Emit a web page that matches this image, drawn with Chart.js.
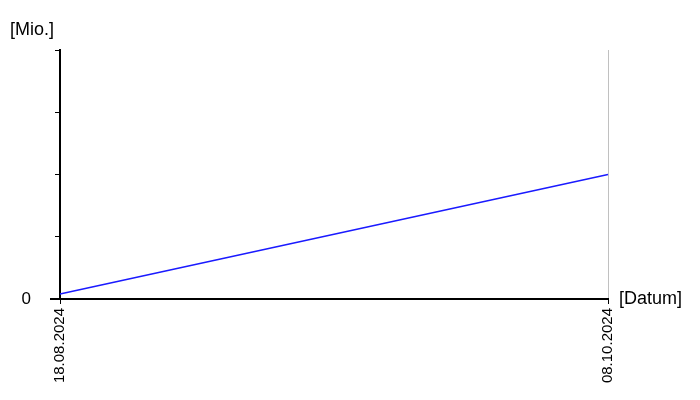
<!DOCTYPE html>
<html>
<head>
<meta charset="utf-8">
<script src="https://cdn.jsdelivr.net/npm/chart.js@4.4.1/dist/chart.umd.min.js"></script>
<style>
  body { margin: 0; background: #fff; }
  #wrap { width: 700px; height: 400px; }
</style>
</head>
<body>
<div id="wrap"><canvas id="chart" width="700" height="400"></canvas></div>
<script>
// chart data
const dates = ['18.08.2024', '08.10.2024'];
const values = [0.08, 2.0];
const yTicks = [0, 1, 2, 3, 4];
const yLabel = '[Mio.]';
const xLabel = '[Datum]';

const FONT = 'Arial, "Liberation Sans", sans-serif';

// axis titles + small extra tick left of the origin
const extras = {
  id: 'extras',
  afterDraw(chart) {
    const { ctx, chartArea } = chart;
    ctx.save();
    ctx.strokeStyle = '#000';
    ctx.lineWidth = 2;
    ctx.beginPath();
    ctx.moveTo(50, chartArea.bottom);
    ctx.lineTo(chartArea.left, chartArea.bottom);
    ctx.stroke();

    ctx.fillStyle = '#000';
    ctx.font = '18px ' + FONT;
    ctx.textBaseline = 'middle';
    ctx.textAlign = 'left';
    ctx.fillText(yLabel, 10, 30);
    ctx.fillText(xLabel, chartArea.right + 11, chartArea.bottom);
    ctx.restore();
  }
};

new Chart(document.getElementById('chart'), {
  type: 'line',
  data: {
    labels: dates,
    datasets: [{
      data: values,
      borderColor: '#1a1aff',
      borderWidth: 1.5,
      pointRadius: 0,
      tension: 0,
      fill: false
    }]
  },
  options: {
    responsive: false,
    animation: false,
    layout: { padding: { top: 50, right: 92, left: 0, bottom: 0 } },
    plugins: { legend: { display: false }, tooltip: { enabled: false } },
    scales: {
      x: {
        type: 'category',
        offset: false,
        afterFit(scale) { scale.height = 101; },
        border: { display: true, color: '#000', width: 2 },
        grid: {
          drawOnChartArea: true,
          color: ctx => ctx.index === dates.length - 1 ? '#c0c0c0' : 'rgba(0,0,0,0)',
          tickColor: '#000',
          tickLength: 5,
          lineWidth: 1
        },
        ticks: {
          minRotation: 90,
          maxRotation: 90,
          autoSkip: false,
          padding: 4,
          color: '#000',
          font: { family: FONT, size: 15 }
        }
      },
      y: {
        min: yTicks[0],
        max: yTicks[yTicks.length - 1],
        afterFit(scale) { scale.width = 60; },
        afterBuildTicks(scale) { scale.ticks = yTicks.map(v => ({ value: v })); },
        border: { display: true, color: '#000', width: 2 },
        grid: {
          drawOnChartArea: false,
          tickColor: '#000',
          tickLength: 5,
          lineWidth: 1
        },
        ticks: {
          padding: 24,
          color: '#000',
          font: { family: FONT, size: 17 },
          callback: v => v === 0 ? '0' : ''
        }
      }
    }
  },
  plugins: [extras]
});
</script>
</body>
</html>
